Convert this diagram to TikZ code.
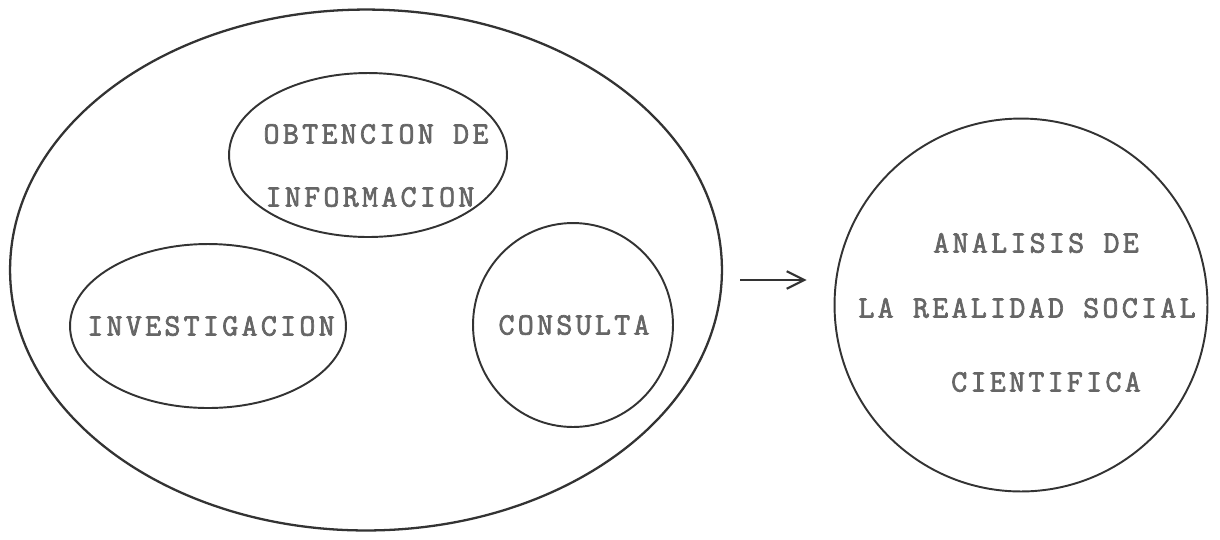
\documentclass[tikz,border=0pt]{standalone}
\usepackage{fontspec}
\usetikzlibrary{shapes.geometric,arrows.meta}
\newfontfamily\typewriter{Latin Modern Mono}[LetterSpace=10.5,FakeBold=2.2]
\tikzset{
  bubble/.style={draw=black!80,line width=1.1pt,ellipse,inner sep=0pt},
  typed/.style={font=\typewriter\fontsize{17.7}{20}\selectfont,text=black!60,inner sep=0pt},
}

\begin{document}
\begin{tikzpicture}[x=0.02cm,y=-0.02cm]
    \useasboundingbox (0,0) rectangle (1220,539);
    %% whole
    \node[bubble,line width=1.3pt,minimum width=14.24cm,minimum height=10.42cm] (total) at (366,270) {};
    %% parts
    \node[bubble,minimum width=5.56cm,minimum height=3.28cm] (obtencion) at (368,155) {};
    \node[bubble,minimum width=5.52cm,minimum height=3.28cm] (investigacion) at (208,326) {};
    \node[bubble,minimum width=4cm,minimum height=4.08cm] (consulta) at (573,325) {};
    \node[typed] (obtencion1) at (376,134) {OBTENCION DE};
    \node[typed] (obtencion2) at (370,197) {INFORMACION};
    \node[typed] (investigacion1) at (211,326) {INVESTIGACION};
    \node[typed] (consulta1) at (574,325) {CONSULTA};
    %% result
    \node[bubble,circle,minimum size=7.46cm] (analisis) at (1021,305) {};
    \node[typed] (analisis1) at (1036,243) {ANALISIS DE};
    \node[typed] (analisis2) at (1027,308) {LA REALIDAD SOCIAL};
    \node[typed] (analisis3) at (1046,382) {CIENTIFICA};
    \draw[black!80,line width=1.2pt,-{Straight Barb[length=10pt,width=10pt]}] ([shift={(17,10)}]total.east) -- ([shift={(-27,-25)}]analisis.west);
\end{tikzpicture}
\end{document}
